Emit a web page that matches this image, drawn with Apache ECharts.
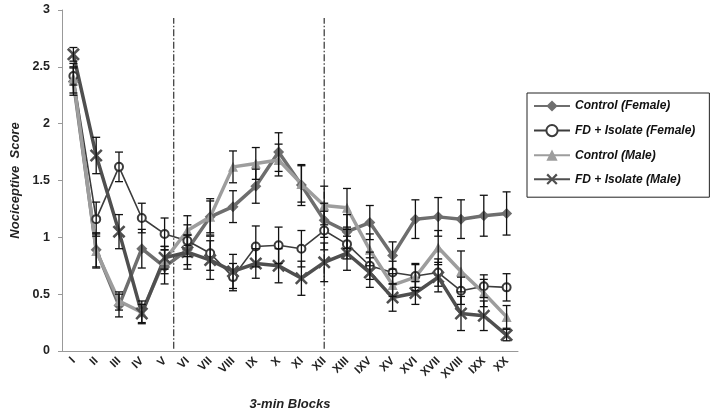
<!DOCTYPE html>
<html>
<head>
<meta charset="utf-8">
<script src="https://cdn.jsdelivr.net/npm/echarts@6/dist/echarts.min.js"></script>
<style>
  html, body { margin: 0; padding: 0; background: #fff; }
  #chart { width: 717px; height: 416px; }
</style>
</head>
<body>
<div id="chart"></div>
<script>
// data
const blocks = ["I", "II", "III", "IV", "V", "VI", "VII", "VIII", "IX", "X",
  "XI", "XII", "XIII", "IXV", "XV", "XVI", "XVII", "XVIII", "IXX", "XX"];

const controlFemale = [2.37, 0.89, 0.40, 0.90, 0.74, 0.89, 1.18, 1.27, 1.45, 1.75,
  1.46, 1.15, 1.05, 1.13, 0.84, 1.16, 1.18, 1.16, 1.19, 1.21];
const controlFemaleErr = [0.12, 0.15, 0.10, 0.17, 0.15, 0.13, 0.16, 0.14, 0.15, 0.17,
  0.18, 0.15, 0.15, 0.15, 0.12, 0.17, 0.17, 0.17, 0.18, 0.19];

const fdFemale = [2.42, 1.16, 1.62, 1.17, 1.03, 0.97, 0.86, 0.65, 0.92, 0.93,
  0.90, 1.06, 0.94, 0.75, 0.69, 0.66, 0.69, 0.53, 0.57, 0.56];
const fdFemaleErr = [0.08, 0.15, 0.13, 0.13, 0.14, 0.14, 0.15, 0.12, 0.18, 0.16,
  0.16, 0.17, 0.13, 0.12, 0.10, 0.10, 0.12, 0.12, 0.10, 0.12];

const controlMale = [2.40, 0.88, 0.44, 0.34, 0.80, 1.06, 1.18, 1.62, 1.65, 1.68,
  1.47, 1.28, 1.26, 0.89, 0.58, 0.65, 0.91, 0.70, 0.51, 0.30];
const controlMaleErr = [0.13, 0.15, 0.08, 0.10, 0.12, 0.13, 0.14, 0.14, 0.14, 0.14,
  0.16, 0.17, 0.17, 0.14, 0.10, 0.12, 0.15, 0.18, 0.12, 0.10];

const fdMale = [2.61, 1.72, 1.05, 0.33, 0.82, 0.87, 0.80, 0.70, 0.77, 0.75,
  0.64, 0.78, 0.86, 0.69, 0.47, 0.51, 0.65, 0.33, 0.31, 0.14];
const fdMaleErr = [0.06, 0.16, 0.15, 0.08, 0.10, 0.15, 0.17, 0.15, 0.13, 0.15,
  0.15, 0.17, 0.15, 0.13, 0.12, 0.10, 0.13, 0.15, 0.13, 0.05];

const dividerPositions = [4.9, 11.5]; // in block units, from the left edge
const yTicks = [0, 3, 0.5];           // min, max, step

const font = "Liberation Sans";
const xMark = "path://M0,1.4 L1.4,0 L5,3.6 L8.6,0 L10,1.4 L6.4,5 L10,8.6 L8.6,10 L5,6.4 L1.4,10 L0,8.6 L3.6,5 Z";

function errData(vals, errs) {
  return vals.map((v, i) => [i, v - errs[i], v + errs[i]]);
}

function errorBars(vals, errs) {
  return {
    type: "custom",
    z: 5,
    silent: true,
    data: errData(vals, errs),
    renderItem(params, api) {
      const lo = api.coord([api.value(0), api.value(1)]);
      const hi = api.coord([api.value(0), api.value(2)]);
      const w = 4;
      const style = { stroke: "#111", lineWidth: 1.3 };
      return {
        type: "group",
        children: [
          { type: "line", shape: { x1: hi[0], y1: hi[1], x2: lo[0], y2: lo[1] }, style },
          { type: "line", shape: { x1: hi[0] - w, y1: hi[1], x2: hi[0] + w, y2: hi[1] }, style },
          { type: "line", shape: { x1: lo[0] - w, y1: lo[1], x2: lo[0] + w, y2: lo[1] }, style },
        ],
      };
    },
  };
}

let option = {
  animation: false,
  textStyle: { fontFamily: font },
  grid: { left: 62, right: 199, top: 10, bottom: 65 },
  legend: {
    orient: "vertical",
    left: 527,
    top: 93,
    padding: [7, 14, 12, 6],
    itemGap: 12,
    itemWidth: 36,
    itemHeight: 14,
    borderColor: "#222",
    borderWidth: 1,
    textStyle: { fontFamily: font, fontSize: 12, fontWeight: "bold", fontStyle: "italic", color: "#111" },
    data: ["Control (Female)", "FD + Isolate (Female)", "Control (Male)", "FD + Isolate (Male)"],
  },
  xAxis: [
    {
      type: "category",
      data: blocks,
      boundaryGap: true,
      name: "3-min Blocks",
      nameLocation: "middle",
      nameGap: 47,
      nameTextStyle: { fontSize: 13, fontWeight: "bold", fontStyle: "italic", color: "#222" },
      axisLine: { lineStyle: { color: "#999" } },
      axisTick: { length: 5, lineStyle: { color: "#999" } },
      axisLabel: { rotate: 45, fontSize: 11.5, fontWeight: "bold", color: "#222", interval: 0, margin: 8 },
      splitLine: { show: false },
    },
    {
      type: "value",
      min: 0,
      max: blocks.length,
      show: false,
    },
  ],
  yAxis: {
    type: "value",
    min: yTicks[0],
    max: yTicks[1],
    interval: yTicks[2],
    name: "Nociceptive  Score",
    nameLocation: "middle",
    nameGap: 40,
    nameTextStyle: { fontSize: 13, fontWeight: "bold", fontStyle: "italic", color: "#222" },
    axisLine: { show: true, lineStyle: { color: "#999" } },
    axisTick: { show: true, length: 4, lineStyle: { color: "#999" } },
    axisLabel: { fontSize: 12.5, fontWeight: "bold", color: "#222", margin: 12 },
    splitLine: { show: false },
  },
  series: [
    {
      type: "custom",
      xAxisIndex: 1,
      silent: true,
      z: 1,
      data: dividerPositions,
      renderItem(params, api) {
        const a = api.coord([api.value(0), 0.02]);
        const b = api.coord([api.value(0), 2.93]);
        return {
          type: "line",
          shape: { x1: a[0], y1: a[1], x2: b[0], y2: b[1] },
          style: { stroke: "#333", lineWidth: 1.2, lineDash: [7, 2, 1.5, 2] },
        };
      },
    },
    {
      name: "Control (Female)",
      type: "line",
      data: controlFemale,
      symbol: "diamond",
      symbolSize: 11,
      z: 3,
      color: "#6e6e6e",
      lineStyle: { width: 3.5, color: "#6e6e6e" },
      itemStyle: { color: "#6e6e6e" },
    },
    {
      name: "FD + Isolate (Female)",
      type: "line",
      data: fdFemale,
      symbol: "emptyCircle",
      symbolSize: 8,
      z: 3,
      color: "#3c3c3c",
      lineStyle: { width: 1.6, color: "#3c3c3c" },
      itemStyle: { color: "#3c3c3c", borderWidth: 1.1 },
    },
    {
      name: "Control (Male)",
      type: "line",
      data: controlMale,
      symbol: "triangle",
      symbolSize: 10,
      z: 3,
      color: "#9d9d9d",
      lineStyle: { width: 3.5, color: "#9d9d9d" },
      itemStyle: { color: "#9d9d9d" },
    },
    {
      name: "FD + Isolate (Male)",
      type: "line",
      data: fdMale,
      symbol: xMark,
      symbolSize: 13,
      z: 3,
      color: "#4f4f4f",
      lineStyle: { width: 3.5, color: "#4f4f4f" },
      itemStyle: { color: "#4f4f4f" },
    },
    errorBars(controlFemale, controlFemaleErr),
    errorBars(fdFemale, fdFemaleErr),
    errorBars(controlMale, controlMaleErr),
    errorBars(fdMale, fdMaleErr),
  ],
};

let myChart = echarts.init(document.getElementById("chart"));
myChart.setOption(option, true);
window.onresize = myChart.resize;
</script>
</body>
</html>
